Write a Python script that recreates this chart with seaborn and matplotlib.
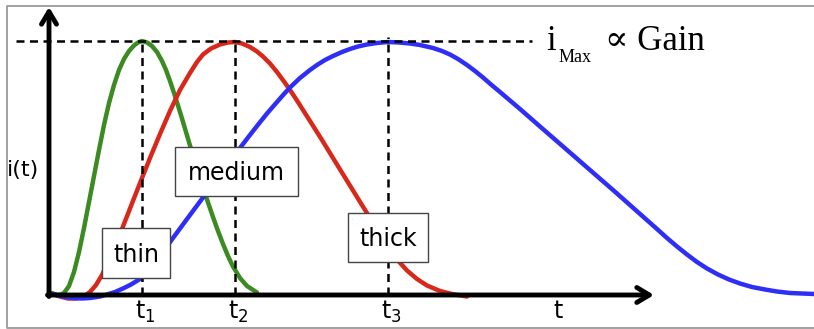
import numpy as np
import pandas as pd
import matplotlib
matplotlib.use("Agg")
import matplotlib.pyplot as plt
from matplotlib.patches import Rectangle
import seaborn as sns

# ---- data (t in arbitrary time units, i in arbitrary current units) ----
thin_t = [3, 8, 12, 15, 20, 25, 30, 35, 40, 45, 50, 55, 60, 65, 70, 75, 80, 85, 89, 93,
          98, 103, 108, 113, 117, 121, 125, 129, 133, 137, 141, 147, 153, 158, 164, 169, 174,
          179, 184, 191, 198, 208]
thin_i = [2, 0, 0.5, 2, 9, 23, 43, 67, 93, 119, 145, 170, 192, 210, 225, 236, 244, 249.5, 252.5, 254,
          252.5, 249, 243, 234, 225, 214, 202, 189.5, 176.5, 163, 149.5, 130, 111, 95.5, 78, 64, 51,
          39, 28.5, 17, 9, 2.5]

medium_t = [3, 11, 19, 27, 35, 41, 47, 53, 63, 73, 82, 91, 101, 111, 121, 131, 141, 148, 154, 162,
            171, 179, 186, 193, 201, 208, 214, 221, 228, 235, 241, 248, 254, 261, 273, 284, 296,
            308, 317, 328, 338, 348, 358, 368, 378, 391, 403, 418]
medium_i = [1, -1.5, -3.5, -3.5, -1.5, 3, 10, 20, 42, 66, 89, 112, 137, 161, 184, 205, 222, 233, 240.5, 246.5,
            250.5, 252.5, 253, 251.5, 248, 243.5, 238.5, 231.5, 223, 213.5, 205, 194.5, 185, 174, 155, 137, 117.5,
            98, 83.5, 65.5, 49.5, 35.5, 24.5, 16, 9.5, 4, 1, -1.5]

thick_t = [3, 13, 24, 33, 41, 51, 58, 66, 74, 82, 91, 99, 108, 116, 124, 131, 141, 154, 166, 179,
           191, 199, 208, 218, 228, 235, 241, 251, 261, 268, 276, 284, 293, 301, 309, 318, 328,
           339, 350, 361, 371, 384, 393, 401, 409, 418, 426, 434, 442, 451, 471, 491, 514, 541,
           564, 586, 608, 618, 628, 638, 648, 658, 669, 680, 691, 703, 716, 728, 741, 753, 765]
thick_i = [1, -1.5, -3, -3.5, -3, -1.5, 0.5, 3, 6.5, 10.5, 16, 24, 35, 46, 57, 66.5, 80, 97.5, 113.5, 131,
           147, 157.5, 169, 181.5, 193, 201, 207.5, 217, 225, 230, 235, 239, 243, 246, 248.5, 250.5, 252,
           253, 252.5, 251.5, 250, 247, 244, 240.5, 236, 230, 224, 217.5, 210.5, 203, 186, 168.5, 148.5, 125,
           105, 85.5, 66, 57, 48.5, 40.5, 33, 26.5, 20.5, 15.5, 11.5, 8, 5.5, 3.5, 2, 1.5, 1]

peak_t = [93, 186, 339]
peak_labels = [r"$\mathregular{t_1}$", r"$\mathregular{t_2}$", r"$\mathregular{t_3}$"]
i_max = 254
curve_names = ["thin", "medium", "thick"]

df = pd.concat([
    pd.DataFrame({"t": thin_t, "i": thin_i, "curve": "thin"}),
    pd.DataFrame({"t": medium_t, "i": medium_i, "curve": "medium"}),
    pd.DataFrame({"t": thick_t, "i": thick_i, "curve": "thick"}),
], ignore_index=True)

# ---- style ----
sns.set_theme(style="white")
plt.rcParams["font.family"] = ["DejaVu Sans"]
plt.rcParams["mathtext.fontset"] = "dejavusans"
plt.rcParams["text.color"] = "black"

fig = plt.figure(figsize=(8.14, 3.29), dpi=100)
ax = fig.add_axes([0, 0, 1, 1])
ax.set_xlim(-49, 765)
ax.set_ylim(-34, 295)
ax.axis("off")

palette = {"thin": "#3b8a22", "medium": "#d8281c", "thick": "#2e2ef6"}
sns.lineplot(data=df, x="t", y="i", hue="curve", palette=palette, sort=False,
             estimator=None, legend=False, lw=3.2, ax=ax, zorder=2)
for ln in ax.lines:
    ln.set_solid_joinstyle("round")
    ln.set_solid_capstyle("round")

# dashed guide lines
dash = dict(color="black", lw=1.8, ls=(0, (3.2, 2.2)), zorder=3)
ax.plot([-33, 483], [i_max, i_max], **dash)
for k, tp in enumerate(peak_t):
    top = i_max + (4 if k == 2 else 0)
    ax.plot([tp, tp], [0, top], **dash)

# axes arrows
arrow = dict(arrowstyle="->,head_length=0.75,head_width=0.45", lw=3.5, color="black",
             shrinkA=0, shrinkB=0)
ax.annotate("", xy=(0, 288), xytext=(0, -1.5), arrowprops=arrow, zorder=4)
ax.annotate("", xy=(605, 0), xytext=(-1.5, 0), arrowprops=arrow, zorder=4)

# tick labels
for tp, lab in zip(peak_t, peak_labels):
    ax.text(tp + 3, -4, lab, ha="center", va="top", fontsize=17, zorder=5)
ax.text(509, -4, "t", ha="center", va="top", fontsize=17, zorder=5)
ax.text(-26, 125, "i(t)", ha="center", va="center", fontsize=16, zorder=5)

# i_Max ∝ Gain
serif = ["Liberation Serif", "DejaVu Serif"]
ax.text(497, 245, "i", family=serif, fontsize=25, ha="left", va="baseline")
ax.text(510, 233, "Max", family=serif, fontsize=13, ha="left", va="baseline")
ax.text(556, 245, "\u221d Gain", family=serif, fontsize=25, ha="left", va="baseline")

# label boxes
boxes = {"thin": (87, 42, 68, 50), "medium": (187.5, 123.5, 123, 49), "thick": (339, 57.5, 80, 49)}
for name in curve_names:
    cx, cy, w, h = boxes[name]
    ax.add_patch(Rectangle((cx - w / 2, cy - h / 2), w, h, facecolor="white",
                           edgecolor="#444444", lw=1.0, zorder=6))
    ax.text(cx, cy - 2, name, ha="center", va="center", fontsize=17, zorder=7)

# figure frame (left, top, bottom)
ax.plot([765, -42, -42, 765], [289, 289, -32.5, -32.5], color="#9a9a9a", lw=1.3,
        zorder=1, clip_on=False)

fig.savefig("out.png", dpi=100)
